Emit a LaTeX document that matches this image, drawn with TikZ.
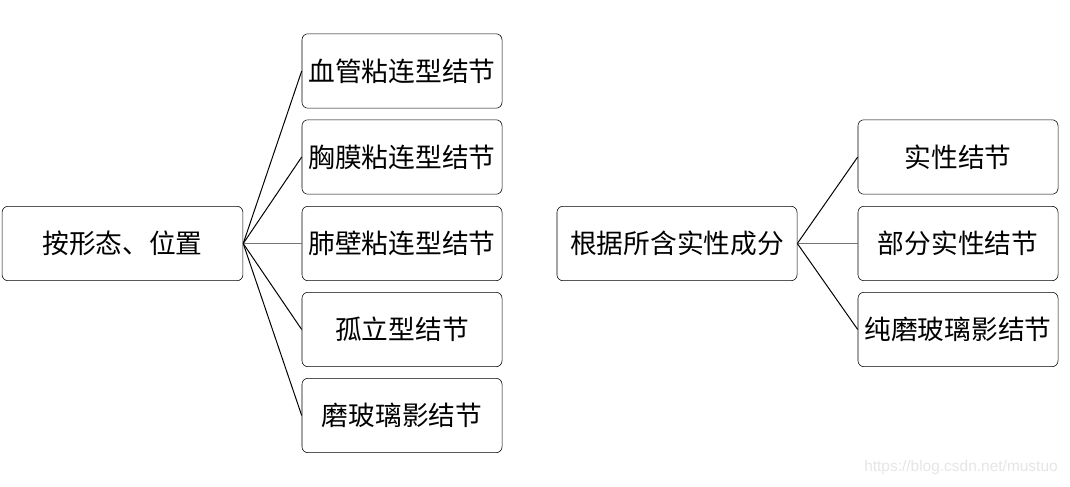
\documentclass[tikz,border=0pt]{standalone}
\usepackage{fontspec}
\newfontfamily\cjk{Noto Sans CJK SC}
\newfontfamily\wmfont{Liberation Sans}
\usetikzlibrary{positioning}
\tikzset{box/.style={draw,rounded corners=0.15cm,minimum height=1.86cm,inner sep=0pt,font=\cjk\fontsize{19}{22}\selectfont},
    mainbox/.style={box,minimum width=6.02cm},
    leafbox/.style={box,minimum width=5cm},
    link/.style={draw,line width=0.7pt},
    flatlink/.style={draw,line width=0.7pt,black!55}}

\begin{document}
\begin{tikzpicture}[x=0.025cm,y=-0.025cm]

% Fix the page size
\useasboundingbox (0,0) rectangle (1070,486);

% Left tree: by shape and position
\node[mainbox] (shape) at (122.5,243.5) {按形态、位置};
\node[leafbox] (vessel) at (402,71) {血管粘连型结节};
\node[leafbox] (pleura) at (402,157) {胸膜粘连型结节};
\node[leafbox] (wall) at (402,243.5) {肺壁粘连型结节};
\node[leafbox] (isolated) at (402,329.5) {孤立型结节};
\node[leafbox] (ggo) at (402,415.5) {磨玻璃影结节};

\draw[link] (shape.east) -- (vessel.west);
\draw[link] (shape.east) -- (pleura.west);
\draw[flatlink] (shape.east) -- (wall.west);
\draw[link] (shape.east) -- (isolated.west);
\draw[link] (shape.east) -- (ggo.west);

% Right tree: by solid component
\node[mainbox,minimum width=6cm] (solid) at (677,243.5) {根据所含实性成分};
\node[leafbox] (full) at (958,157) {实性结节};
\node[leafbox] (part) at (958,243.5) {部分实性结节};
\node[leafbox] (pure) at (958,329.5) {纯磨玻璃影结节};

\draw[link] (solid.east) -- (full.west);
\draw[flatlink] (solid.east) -- (part.west);
\draw[link] (solid.east) -- (pure.west);

% Watermark
\node[anchor=east,text=black!10,font=\wmfont\fontsize{11}{13}\selectfont,inner sep=0pt] (mark) at (1058,467) {https://blog.csdn.net/mustuo};
\end{tikzpicture}
\end{document}
